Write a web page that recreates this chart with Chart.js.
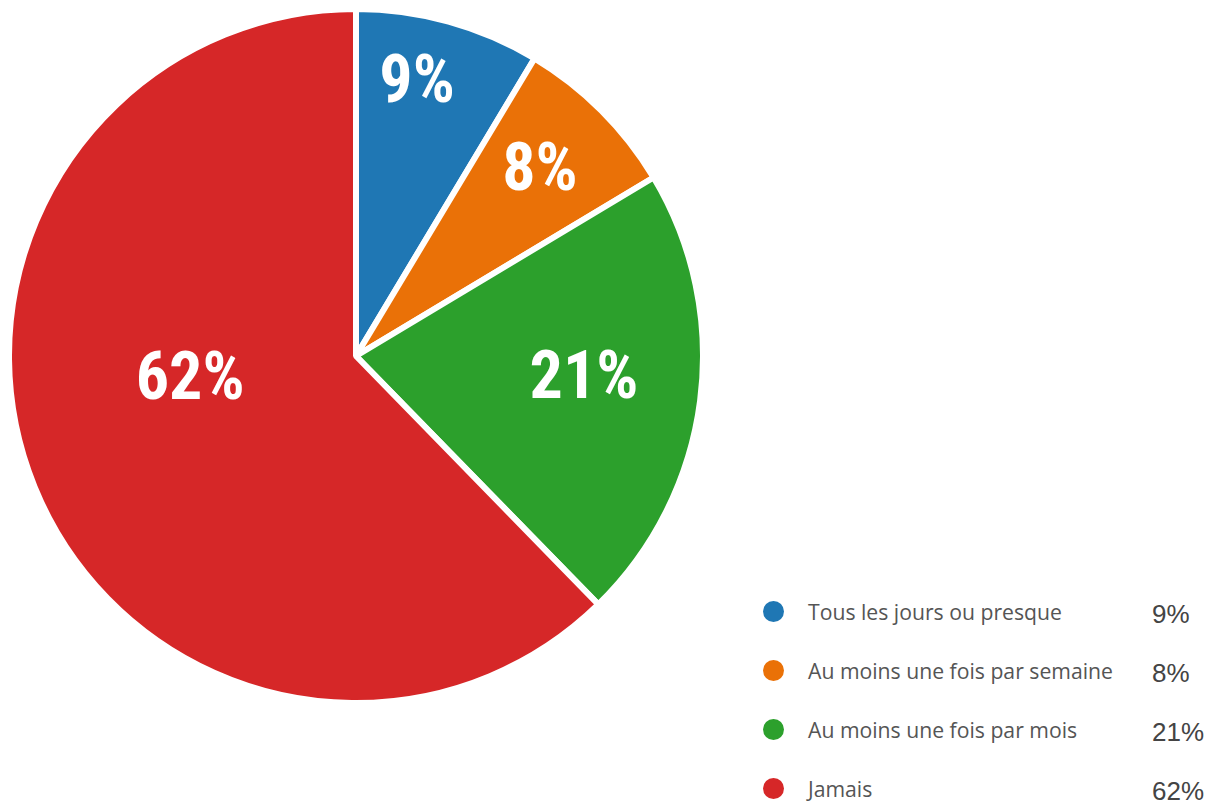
<!DOCTYPE html>
<html><head><meta charset="utf-8">
<script src="https://cdn.jsdelivr.net/npm/chart.js@4"></script>
<style>
html,body{margin:0;padding:0;background:#fff;width:1214px;height:802px;overflow:hidden;position:relative}
#wrap{position:absolute;left:6px;top:6px;width:700px;height:700px}
#legend{position:absolute;left:762px;top:596px;width:452px}
.row{position:relative;height:59px}
.dot{position:absolute;left:1px;top:5px;width:21px;height:21px;border-radius:50%}
.lab{position:absolute;left:46px;top:1px;font-family:"Open Sans",sans-serif;font-size:21.2px;color:#555;white-space:nowrap}
.val{position:absolute;left:390px;top:3px;font-family:"Liberation Sans",Arial,sans-serif;font-size:26px;color:#444}
</style></head>
<body>
<div id="wrap"><canvas id="c"></canvas></div>
<div id="legend"></div>
<script>
const categories = ["Tous les jours ou presque","Au moins une fois par semaine","Au moins une fois par mois","Jamais"];
const values = [8.6, 7.8, 21.3, 62.3];
const labels = ["9%","8%","21%","62%"];
const colors = ["#1f77b4","#ea7107","#2ca02c","#d62728"];

const lg = document.getElementById('legend');
categories.forEach((c,i)=>{
  const r=document.createElement('div');r.className='row';
  r.innerHTML='<div class="dot" style="background:'+colors[i]+'"></div><div class="lab">'+c+'</div><div class="val">'+labels[i]+'</div>';
  lg.appendChild(r);
});

const sliceLabels = {
  id:'sliceLabels',
  afterDatasetsDraw(chart, args, opts){
    const ctx=chart.ctx;
    const meta=chart.getDatasetMeta(0);
    ctx.save();
    ctx.fillStyle='#fff';
    ctx.font='bold 66px "Liberation Sans Narrow","Roboto Condensed",Arial,sans-serif';
    ctx.textAlign='center';ctx.textBaseline='alphabetic';
    meta.data.forEach((arc,i)=>{
      const p=arc.getProps(['x','y','startAngle','endAngle','outerRadius'],true);
      const a=(p.startAngle+p.endAngle)/2 + opts.angleShift[i];
      const r=p.outerRadius*opts.radiusFrac[i];
      ctx.fillText(labels[i], p.x+Math.cos(a)*r, p.y+Math.sin(a)*r+24);
    });
    ctx.restore();
  }
};

new Chart(document.getElementById('c'),{
  type:'pie',
  data:{labels:categories,datasets:[{data:values,backgroundColor:colors,borderColor:'#fff',borderWidth:6}]},
  options:{
    responsive:true,maintainAspectRatio:false,animation:false,
    layout:{padding:0},
    plugins:{legend:{display:false},tooltip:{enabled:false},
      sliceLabels:{radiusFrac:[0.821,0.762,0.659,0.481],angleShift:[-0.054,-0.016,-0.051,0.272]}}
  },
  plugins:[sliceLabels]
});
</script>
</body></html>
